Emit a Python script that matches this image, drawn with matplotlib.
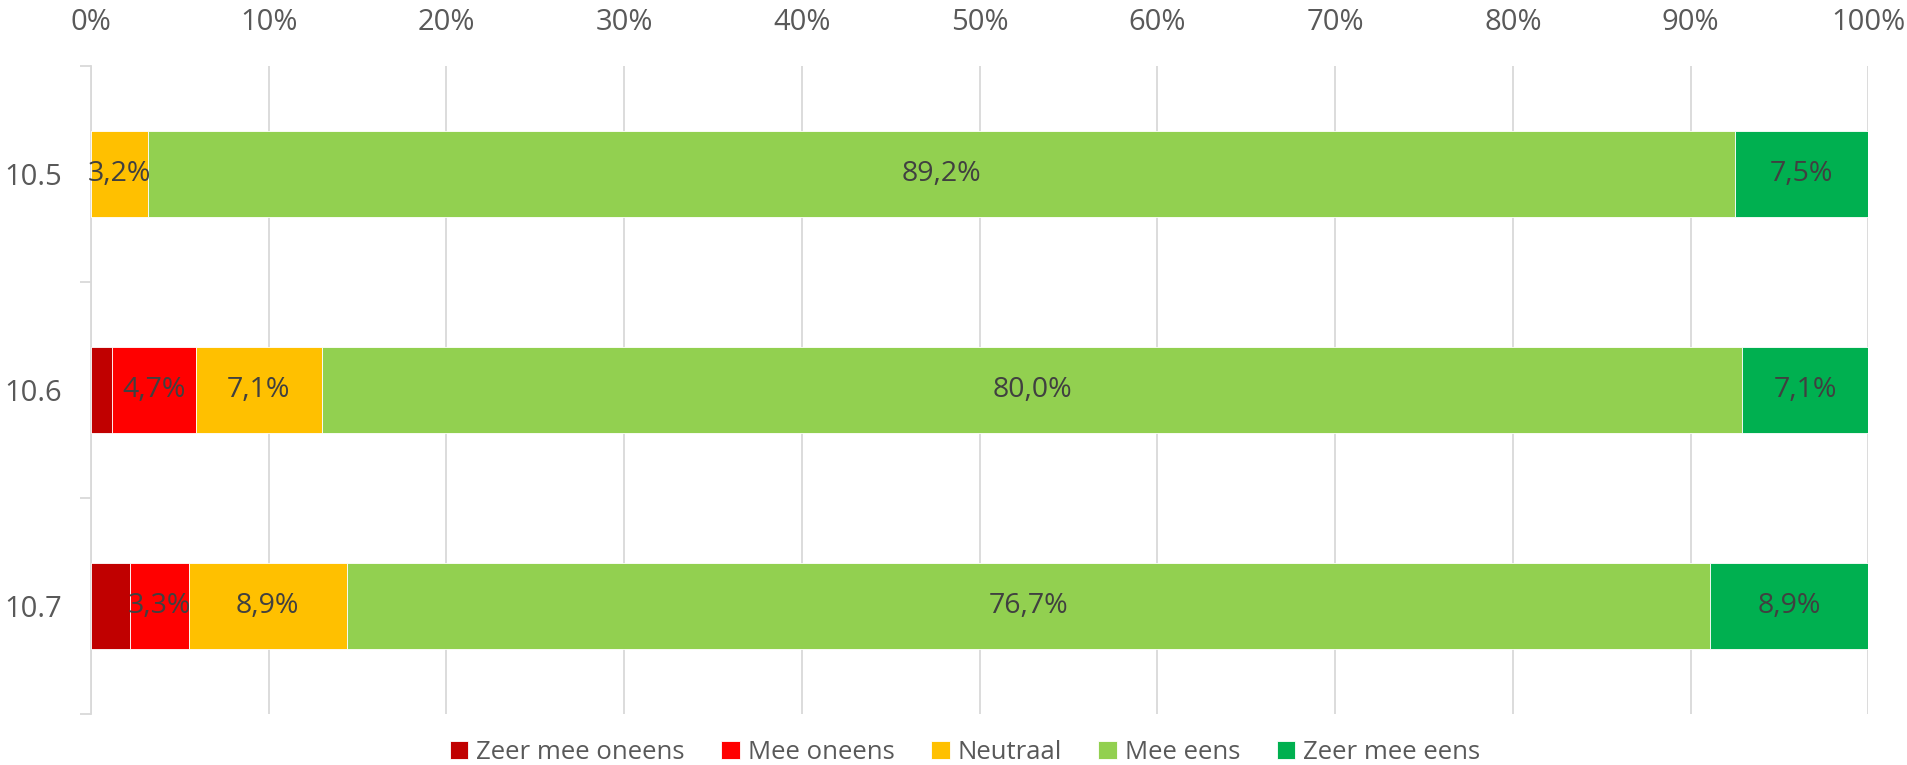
import numpy as np
import matplotlib.pyplot as plt
from matplotlib.ticker import FixedLocator, PercentFormatter

plt.rcParams['font.family'] = ['Open Sans', 'DejaVu Sans']

# survey items, top to bottom
items = ['10.5', '10.6', '10.7']
answers = ['Zeer mee oneens', 'Mee oneens', 'Neutraal', 'Mee eens', 'Zeer mee eens']
colors = ['#C00000', '#FF0000', '#FFC000', '#92D050', '#00B050']

# percentage per answer, one list per item
zeer_oneens = [0.0, 1.2, 2.2]
oneens = [0.0, 4.7, 3.3]
neutraal = [3.2, 7.1, 8.9]
eens = [89.2, 80.0, 76.7]
zeer_eens = [7.5, 7.1, 8.9]

# labels are only shown on these segments
show_label = [
    [False, False, False],
    [False, True, True],
    [True, True, True],
    [True, True, True],
    [True, True, True],
]

series = np.array([zeer_oneens, oneens, neutraal, eens, zeer_eens])
shares = series / series.sum(axis=0) * 100

fig = plt.figure(figsize=(19.07, 7.65), dpi=100)
ax = fig.add_axes([0.0477, 0.0667, 0.932, 0.847])

y = np.arange(len(items))
left = np.zeros(len(items))
for k, name in enumerate(answers):
    ax.barh(y, shares[k], left=left, height=0.4, color=colors[k],
            edgecolor='white', linewidth=0.6, label=name, zorder=3)
    for i in range(len(items)):
        if show_label[k][i]:
            txt = ('%.1f%%' % series[k][i]).replace('.', ',')
            ax.text(left[i] + shares[k][i] / 2, y[i], txt, ha='center', va='center',
                    fontsize=20.5, color='#404040', zorder=4)
    left += shares[k]

ax.set_xlim(0, 100)
ax.set_ylim(2.5, -0.5)

# percentages along the top
ax.xaxis.set_ticks_position('top')
ax.set_xticks(np.arange(0, 101, 10))
ax.xaxis.set_major_formatter(PercentFormatter(decimals=0))
ax.tick_params(axis='x', length=0, pad=21, labelsize=21, labelcolor='#595959')
ax.grid(axis='x', color='#d9d9d9', linewidth=1.3, zorder=0)

# category labels between boundary ticks
ax.yaxis.set_major_locator(FixedLocator([-0.5, 0.5, 1.5, 2.5]))
ax.yaxis.set_minor_locator(FixedLocator(y))
ax.yaxis.set_major_formatter(plt.NullFormatter())
ax.set_yticklabels(items, minor=True)
ax.tick_params(axis='y', which='major', length=8, color='#d9d9d9', width=1.3)
ax.tick_params(axis='y', which='minor', length=0, pad=21, labelsize=21, labelcolor='#595959')

for s in ['top', 'right', 'bottom']:
    ax.spines[s].set_visible(False)
ax.spines['left'].set_color('#d9d9d9')
ax.spines['left'].set_linewidth(1.3)

leg = fig.legend(loc='center', bbox_to_anchor=(0.506, 0.0165), ncol=5, frameon=False,
                 fontsize=18.5, handlelength=0.72, handleheight=0.72, handletextpad=0.3,
                 columnspacing=1.43, borderpad=0)
for t in leg.get_texts():
    t.set_color('#595959')

fig.savefig('out.png', dpi=100)
